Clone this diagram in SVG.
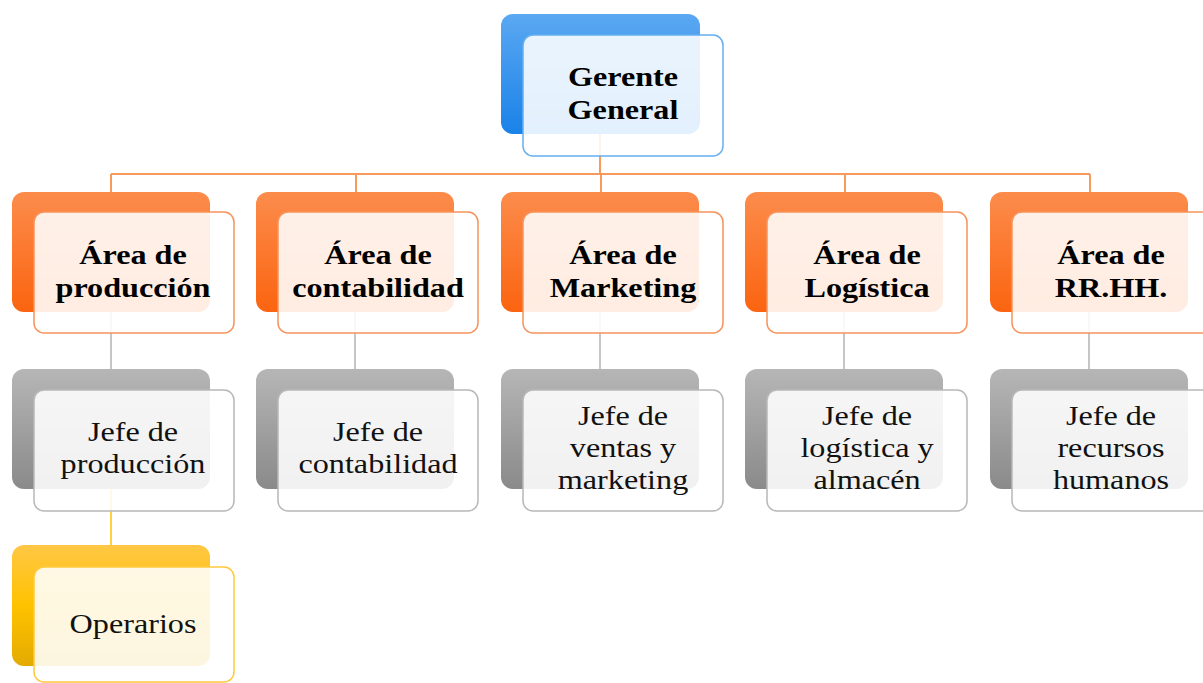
<svg xmlns="http://www.w3.org/2000/svg" width="1203" height="683" viewBox="0 0 1203 683">
  <defs>
    <linearGradient id="gBlue" x1="0" y1="0" x2="0" y2="1">
      <stop offset="0" stop-color="#5ba8f2"/>
      <stop offset="1" stop-color="#1a82e8"/>
    </linearGradient>
    <linearGradient id="gOrange" x1="0" y1="0" x2="0" y2="1">
      <stop offset="0" stop-color="#fc8c4c"/>
      <stop offset="1" stop-color="#fb6410"/>
    </linearGradient>
    <linearGradient id="gGray" x1="0" y1="0" x2="0" y2="1">
      <stop offset="0" stop-color="#b6b6b6"/>
      <stop offset="1" stop-color="#8a8a8a"/>
    </linearGradient>
    <linearGradient id="gYellow" x1="0" y1="0" x2="0" y2="1">
      <stop offset="0" stop-color="#ffc745"/>
      <stop offset="0.5" stop-color="#ffc200"/>
      <stop offset="1" stop-color="#e3ab00"/>
    </linearGradient>
    <style>
      .back { stroke: none; }
      .front { fill: #ffffff; fill-opacity: 0.88; stroke-width: 1.5; }
      .fb { stroke: #64aef0; }
      .fo { stroke: #f7925a; }
      .fg { stroke: #b8b8b8; }
      .fy { stroke: #ffc93c; }
      .tb { font-family: "Liberation Serif", "Times New Roman", serif; font-size: 28px; font-weight: bold; fill: #000; text-anchor: middle; }
      .tr { font-family: "Liberation Serif", "Times New Roman", serif; font-size: 28px; fill: #111; text-anchor: middle; }
      .co { stroke: #f79a5c; stroke-width: 2; fill: none; }
      .cg { stroke: #b4b4b4; stroke-width: 1.5; fill: none; }
      .cy { stroke: #ffc000; stroke-width: 1.5; fill: none; }
    </style>
  </defs>
  <rect width="1203" height="683" fill="#ffffff"/>

  <g id="connectors">
    <path class="co" d="M600 134 V174 M111 174 H1090 M111 174 V192 M356 174 V192 M601 174 V192 M845 174 V192 M1090 174 V192"/>
    <path class="cg" d="M111 312 V369 M355 312 V369 M600 312 V369 M844 312 V369 M1089 312 V369"/>
    <path class="cy" d="M111 489 V545"/>
  </g>

  <g id="gerente">
    <rect class="back" x="501" y="14" width="199" height="120" rx="12" fill="url(#gBlue)"/>
    <rect class="front fb" x="523" y="35" width="200" height="121" rx="10"/>
    <text class="tb" transform="translate(623 0) scale(1.15 1)"><tspan x="0" y="86">Gerente</tspan><tspan x="0" y="119">General</tspan></text>
  </g>

  <g id="area-produccion">
    <rect class="back" x="12" y="192" width="198" height="120" rx="12" fill="url(#gOrange)"/>
    <rect class="front fo" x="34" y="212" width="200" height="121" rx="10"/>
    <text class="tb" transform="translate(133 0) scale(1.15 1)"><tspan x="0" y="264">Área de</tspan><tspan x="0" y="297">producción</tspan></text>
  </g>

  <g id="area-contabilidad">
    <rect class="back" x="256" y="192" width="198" height="120" rx="12" fill="url(#gOrange)"/>
    <rect class="front fo" x="278" y="212" width="200" height="121" rx="10"/>
    <text class="tb" transform="translate(378 0) scale(1.15 1)"><tspan x="0" y="264">Área de</tspan><tspan x="0" y="297">contabilidad</tspan></text>
  </g>

  <g id="area-marketing">
    <rect class="back" x="501" y="192" width="198" height="120" rx="12" fill="url(#gOrange)"/>
    <rect class="front fo" x="523" y="212" width="200" height="121" rx="10"/>
    <text class="tb" transform="translate(623 0) scale(1.15 1)"><tspan x="0" y="264">Área de</tspan><tspan x="0" y="297">Marketing</tspan></text>
  </g>

  <g id="area-logistica">
    <rect class="back" x="745" y="192" width="198" height="120" rx="12" fill="url(#gOrange)"/>
    <rect class="front fo" x="767" y="212" width="200" height="121" rx="10"/>
    <text class="tb" transform="translate(867 0) scale(1.15 1)"><tspan x="0" y="264">Área de</tspan><tspan x="0" y="297">Logística</tspan></text>
  </g>

  <g id="area-rrhh">
    <rect class="back" x="990" y="192" width="198" height="120" rx="12" fill="url(#gOrange)"/>
    <rect class="front fo" x="1012" y="212" width="200" height="121" rx="10"/>
    <text class="tb" transform="translate(1111 0) scale(1.15 1)"><tspan x="0" y="264">Área de</tspan><tspan x="0" y="297">RR.HH.</tspan></text>
  </g>

  <g id="jefe-produccion">
    <rect class="back" x="12" y="369" width="198" height="120" rx="12" fill="url(#gGray)"/>
    <rect class="front fg" x="34" y="390" width="200" height="121" rx="10"/>
    <text class="tr" transform="translate(133 0) scale(1.15 1)"><tspan x="0" y="441">Jefe de</tspan><tspan x="0" y="473">producción</tspan></text>
  </g>

  <g id="jefe-contabilidad">
    <rect class="back" x="256" y="369" width="198" height="120" rx="12" fill="url(#gGray)"/>
    <rect class="front fg" x="278" y="390" width="200" height="121" rx="10"/>
    <text class="tr" transform="translate(378 0) scale(1.15 1)"><tspan x="0" y="441">Jefe de</tspan><tspan x="0" y="473">contabilidad</tspan></text>
  </g>

  <g id="jefe-ventas">
    <rect class="back" x="501" y="369" width="198" height="120" rx="12" fill="url(#gGray)"/>
    <rect class="front fg" x="523" y="390" width="200" height="121" rx="10"/>
    <text class="tr" transform="translate(623 0) scale(1.15 1)"><tspan x="0" y="425">Jefe de</tspan><tspan x="0" y="457">ventas y</tspan><tspan x="0" y="489">marketing</tspan></text>
  </g>

  <g id="jefe-logistica">
    <rect class="back" x="745" y="369" width="198" height="120" rx="12" fill="url(#gGray)"/>
    <rect class="front fg" x="767" y="390" width="200" height="121" rx="10"/>
    <text class="tr" transform="translate(867 0) scale(1.15 1)"><tspan x="0" y="425">Jefe de</tspan><tspan x="0" y="457">logística y</tspan><tspan x="0" y="489">almacén</tspan></text>
  </g>

  <g id="jefe-rrhh">
    <rect class="back" x="990" y="369" width="198" height="120" rx="12" fill="url(#gGray)"/>
    <rect class="front fg" x="1012" y="390" width="200" height="121" rx="10"/>
    <text class="tr" transform="translate(1111 0) scale(1.15 1)"><tspan x="0" y="425">Jefe de</tspan><tspan x="0" y="457">recursos</tspan><tspan x="0" y="489">humanos</tspan></text>
  </g>

  <g id="operarios">
    <rect class="back" x="12" y="545" width="198" height="121" rx="12" fill="url(#gYellow)"/>
    <rect class="front fy" x="34" y="567" width="200" height="115" rx="10"/>
    <text class="tr" transform="translate(133 0) scale(1.15 1)"><tspan x="0" y="633">Operarios</tspan></text>
  </g>
</svg>
